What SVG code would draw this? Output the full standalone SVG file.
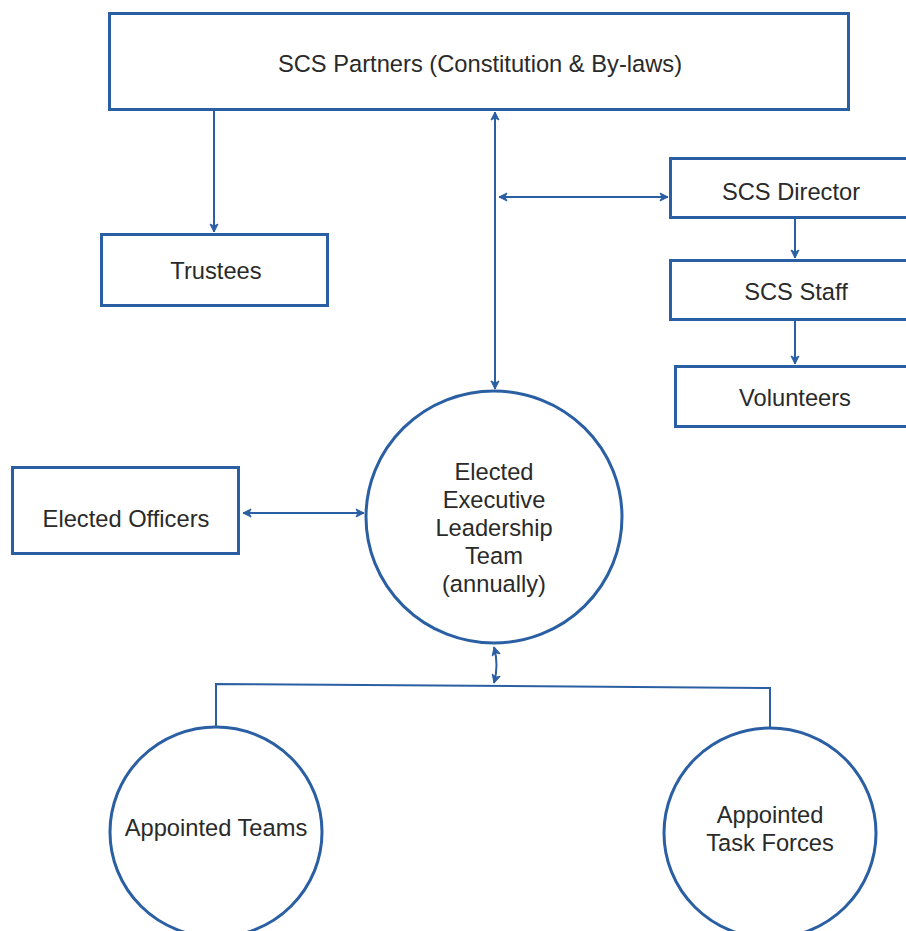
<svg xmlns="http://www.w3.org/2000/svg" width="906" height="931" viewBox="0 0 906 931">
  <style>
    .box { fill: #ffffff; stroke: #2b5fa3; stroke-width: 3; }
    .lbl { font-family: "Liberation Sans", Arial, sans-serif; font-size: 23.7px; fill: #2a2a2a; text-anchor: middle; dominant-baseline: central; }
    .conn { fill: none; stroke: #2b5fa3; stroke-width: 2; }
    .arr { marker-end: url(#ah); }
    .dbl { marker-start: url(#ah); marker-end: url(#ah); }
  </style>
  <defs>
    <marker id="ah" markerUnits="userSpaceOnUse" markerWidth="10" markerHeight="10" viewBox="0 0 10 10" refX="9" refY="5" orient="auto-start-reverse">
      <path d="M1,1 L9,5 L1,9 L3,5 Z" fill="#2b5fa3" stroke="#2b5fa3" stroke-width="1" stroke-linejoin="round"/>
    </marker>
  </defs>
  <rect width="906" height="931" fill="#ffffff"/>

  <g id="connectors">
    <line class="conn arr" x1="214" y1="110" x2="214" y2="232"/>
    <line class="conn dbl" x1="495" y1="112" x2="495" y2="389"/>
    <line class="conn dbl" x1="499" y1="197" x2="668" y2="197"/>
    <line class="conn arr" x1="795" y1="219" x2="795" y2="258"/>
    <line class="conn arr" x1="795" y1="321" x2="795" y2="364"/>
    <line class="conn dbl" x1="243" y1="513" x2="364" y2="513"/>
    <path class="conn dbl" d="M494,647 Q499,665 494,683"/>
    <polyline class="conn" points="216,727 216,684 770,688 770,728"/>
  </g>

  <g id="scs-partners">
    <rect class="box" x="109.5" y="13.5" width="739" height="96"/>
    <text class="lbl" x="480" y="64">SCS Partners (Constitution &amp; By-laws)</text>
  </g>

  <g id="trustees">
    <rect class="box" x="101.5" y="234.5" width="226" height="71"/>
    <text class="lbl" x="216" y="271">Trustees</text>
  </g>

  <g id="scs-director">
    <rect class="box" x="670.5" y="158.5" width="240" height="59"/>
    <text class="lbl" x="791" y="192">SCS Director</text>
  </g>

  <g id="scs-staff">
    <rect class="box" x="670.5" y="260.5" width="240" height="59"/>
    <text class="lbl" x="796" y="292">SCS Staff</text>
  </g>

  <g id="volunteers">
    <rect class="box" x="675.5" y="366.5" width="240" height="60"/>
    <text class="lbl" x="795" y="398">Volunteers</text>
  </g>

  <g id="elected-officers">
    <rect class="box" x="12.5" y="467.5" width="226" height="86"/>
    <text class="lbl" x="126" y="519">Elected Officers</text>
  </g>

  <g id="executive-team">
    <ellipse class="box" cx="494" cy="517" rx="128" ry="126"/>
    <text class="lbl" x="494" y="472">Elected</text>
    <text class="lbl" x="494" y="500">Executive</text>
    <text class="lbl" x="494" y="528">Leadership</text>
    <text class="lbl" x="494" y="556">Team</text>
    <text class="lbl" x="494" y="584">(annually)</text>
  </g>

  <g id="appointed-teams">
    <ellipse class="box" cx="216" cy="832" rx="106" ry="105"/>
    <text class="lbl" x="216" y="828">Appointed Teams</text>
  </g>

  <g id="appointed-task-forces">
    <ellipse class="box" cx="770" cy="833" rx="106" ry="105"/>
    <text class="lbl" x="770" y="815">Appointed</text>
    <text class="lbl" x="770" y="843">Task Forces</text>
  </g>
</svg>
